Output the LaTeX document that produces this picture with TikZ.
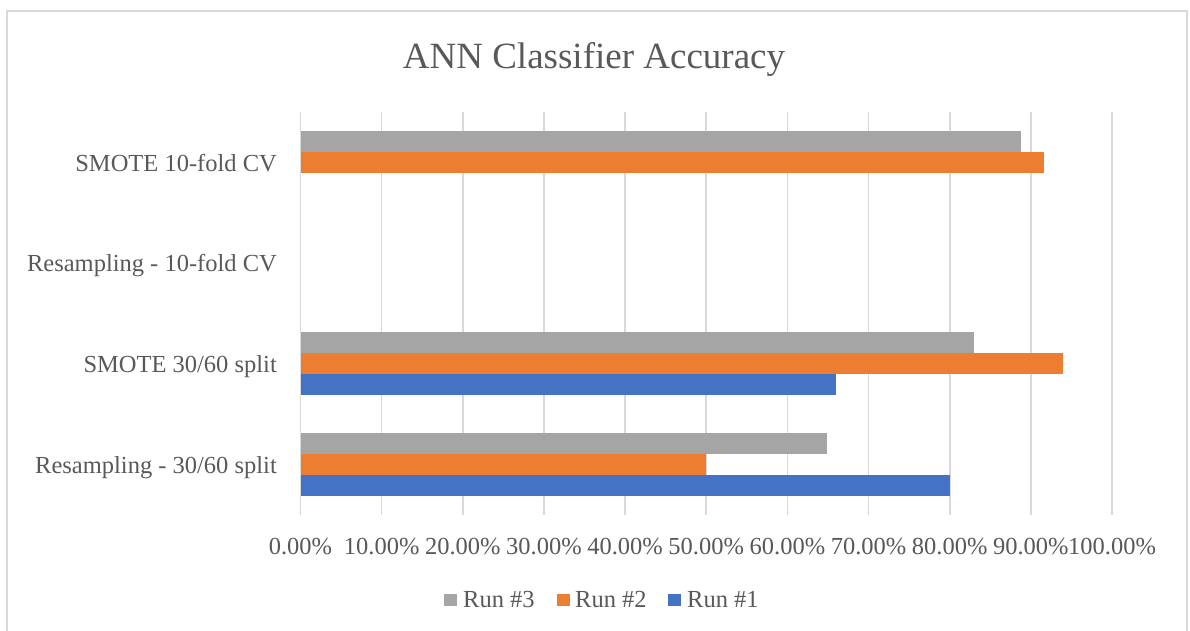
\documentclass[tikz,border=0pt]{standalone}
\usepackage{fontspec}
\setmainfont{Liberation Serif}
\definecolor{txt}{HTML}{595959}
\definecolor{gridc}{HTML}{D9D9D9}
\definecolor{rungray}{HTML}{A5A5A5}
\definecolor{runorange}{HTML}{ED7D31}
\definecolor{runblue}{HTML}{4472C4}
\tikzset{
  gridline/.style={draw=gridc, line width=1.6pt},
  framebox/.style={draw=gridc, line width=2pt},
  titletext/.style={text=txt, inner sep=0pt, font=\fontsize{37}{40}\selectfont},
  cattext/.style={text=txt, inner sep=0pt, anchor=base east, font=\fontsize{24.5}{28}\selectfont},
  ticktext/.style={text=txt, inner sep=0pt, anchor=base, font=\fontsize{24.5}{28}\selectfont},
  legtext/.style={text=txt, inner sep=0pt, anchor=base west, font=\fontsize{24.5}{28}\selectfont},
  legkey/.style={inner sep=0pt, minimum width=13pt, minimum height=12pt, anchor=north west},
}
\begin{document}
\begin{tikzpicture}[x=1pt,y=-1pt]
\useasboundingbox (0,0) rectangle (1190,630);
\fill[white] (0,0) rectangle (1190,630);
\draw[framebox] (7,650) -- (7,11) -- (1187,11) -- (1187,650);

% title
\node[titletext, anchor=base] (title) at (594,68) {ANN Classifier Accuracy};

% gridlines and tick labels
\foreach \i in {0,...,10}{
  \pgfmathsetmacro\gx{300.5+81.15*\i}
  \pgfmathtruncatemacro\v{10*\i}
  \draw[gridline] (\gx,112) -- (\gx,515);
  \node[ticktext] (tick\i) at (\gx,554) {\v.00\%};
}

% bars: band k top = 515-(k+1)*100.75 ; gray, orange, blue
\newcommand{\barrow}[4]{% band index, gray, orange, blue
  \pgfmathsetmacro\bt{515-(#1+1)*100.75+18.9}
  \ifdim #2pt>0pt \fill[rungray] (300.5,\bt) rectangle ({300.5+8.115*#2},\bt+21);\fi
  \ifdim #3pt>0pt \fill[runorange] (300.5,\bt+21) rectangle ({300.5+8.115*#3},\bt+42);\fi
  \ifdim #4pt>0pt \fill[runblue] (300.5,\bt+42) rectangle ({300.5+8.115*#4},\bt+63);\fi
}
\barrow{0}{64.9}{50.0}{80.0}
\barrow{1}{83.0}{93.9}{66.0}
\barrow{2}{0}{0}{0}
\barrow{3}{88.8}{91.6}{0}

% category labels
\node[cattext] (c1) at (277,473.2) {Resampling - 30/60 split};
\node[cattext] (c2) at (277,372.5) {SMOTE 30/60 split};
\node[cattext] (c3) at (277,271.7) {Resampling - 10-fold CV};
\node[cattext] (c4) at (277,171.0) {SMOTE 10-fold CV};

% legend
\node[legkey, fill=rungray] (k3) at (444,594) {};
\node[legtext] (l3) at (463,607) {Run \#3};
\node[legkey, fill=runorange] (k2) at (557,594) {};
\node[legtext] (l2) at (575,607) {Run \#2};
\node[legkey, fill=runblue] (k1) at (668,594) {};
\node[legtext] (l1) at (687,607) {Run \#1};
\end{tikzpicture}
\end{document}
